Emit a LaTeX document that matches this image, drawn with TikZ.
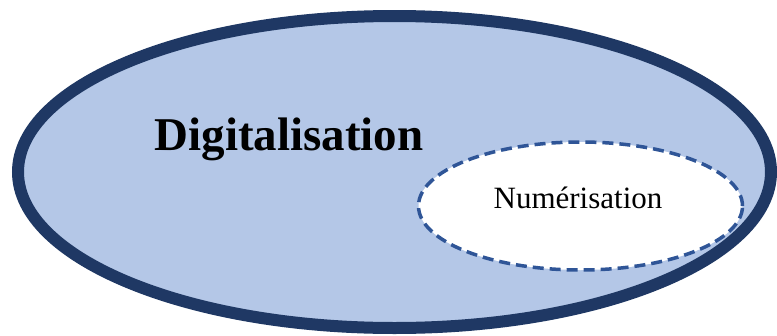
\documentclass[tikz,border=0pt]{standalone}
\usepackage{fontspec}
\setmainfont{Liberation Serif}
\usetikzlibrary{shapes.geometric}
\definecolor{fillblue}{HTML}{B4C7E7}
\definecolor{darkblue}{HTML}{1F3864}
\definecolor{dashblue}{HTML}{2F5597}
\tikzset{
  outerell/.style={ellipse, draw=darkblue, fill=fillblue, line width=12pt, minimum width=753pt, minimum height=312pt, inner sep=0pt},
  innerell/.style={ellipse, draw=dashblue, fill=white, line width=3.5pt, dash pattern=on 11pt off 6pt, minimum width=324pt, minimum height=128pt, inner sep=0pt},
  bigtext/.style={font=\fontsize{47}{50}\selectfont\bfseries, inner sep=0pt},
  smalltext/.style={font=\fontsize{31}{34}\selectfont, inner sep=0pt}
}
\begin{document}
\begin{tikzpicture}[x=1pt,y=-1pt]
\useasboundingbox (0,0) rectangle (777,335);
\node[outerell] (outer) at (394.5,172) {};
\node[innerell] (inner) at (580.5,206) {};
\node[bigtext] (dig) at (289,139) {Digitalisation};
\node[smalltext] (num) at (578,198) {Numérisation};
\end{tikzpicture}
\end{document}
